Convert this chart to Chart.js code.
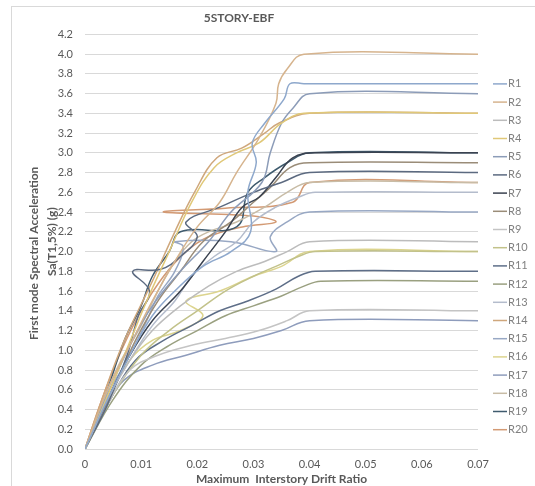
<!DOCTYPE html>
<html>
<head>
<meta charset="utf-8">
<script src="https://cdn.jsdelivr.net/npm/chart.js@4"></script>
<style>
  body { margin: 0; background: #fff; }
  canvas { display: block; }
</style>
</head>
<body>
<canvas id="idaChart" width="535" height="486"></canvas>
<script>
// record names and their (drift, Sa) points
const seriesLabels = ['R1','R2','R3','R4','R5','R6','R7','R8','R9','R10',
                      'R11','R12','R13','R14','R15','R16','R17','R18','R19','R20'];

const R1  = [[0,0],[0.004,0.5],[0.008,0.95],[0.012,1.35],[0.016,1.6],[0.021,1.85],[0.026,2.0],[0.0295,2.2],[0.029,2.6],[0.0305,2.9],[0.0298,3.1],[0.032,3.3],[0.0355,3.55],[0.0365,3.7],[0.039,3.7],[0.07,3.7]];
const R2  = [[0,0],[0.004,0.6],[0.008,1.05],[0.012,1.5],[0.016,1.9],[0.02,2.25],[0.024,2.5],[0.027,2.8],[0.031,3.15],[0.034,3.5],[0.0345,3.7],[0.036,3.85],[0.039,4.0],[0.07,4.0]];
const R3  = [[0,0],[0.004,0.5],[0.008,0.9],[0.012,1.2],[0.017,1.45],[0.022,1.65],[0.027,1.8],[0.032,1.9],[0.036,2.0],[0.04,2.1],[0.07,2.1]];
const R4  = [[0,0],[0.003,0.4],[0.007,0.95],[0.011,1.5],[0.015,2.0],[0.019,2.5],[0.023,2.85],[0.027,3.0],[0.031,3.1],[0.035,3.3],[0.039,3.4],[0.07,3.4]];
const R5  = [[0,0],[0.004,0.55],[0.008,1.05],[0.012,1.45],[0.017,1.8],[0.022,2.1],[0.026,2.4],[0.0315,2.7],[0.033,3.0],[0.035,3.3],[0.037,3.45],[0.04,3.6],[0.07,3.6]];
const R6  = [[0,0],[0.004,0.45],[0.0075,0.95],[0.0095,1.35],[0.0115,1.6],[0.0085,1.8],[0.0135,1.82],[0.017,1.95],[0.02,2.15],[0.018,2.3],[0.024,2.45],[0.03,2.6],[0.035,2.7],[0.04,2.8],[0.07,2.8]];
const R7  = [[0,0],[0.004,0.5],[0.008,0.95],[0.012,1.3],[0.017,1.6],[0.021,1.9],[0.025,2.2],[0.028,2.45],[0.031,2.55],[0.034,2.75],[0.037,2.95],[0.041,3.0],[0.07,3.0]];
const R8  = [[0,0],[0.005,0.6],[0.009,1.1],[0.013,1.5],[0.017,1.8],[0.021,2.1],[0.026,2.3],[0.03,2.5],[0.033,2.65],[0.0365,2.85],[0.04,2.9],[0.07,2.9]];
const R9  = [[0,0],[0.004,0.45],[0.008,0.8],[0.013,0.95],[0.019,1.05],[0.025,1.12],[0.031,1.2],[0.036,1.3],[0.04,1.4],[0.07,1.4]];
const R10 = [[0,0],[0.005,0.55],[0.01,0.95],[0.015,1.2],[0.02,1.4],[0.025,1.6],[0.03,1.75],[0.034,1.85],[0.038,1.95],[0.041,2.0],[0.07,2.0]];
const R11 = [[0,0],[0.005,0.55],[0.009,0.9],[0.014,1.1],[0.019,1.25],[0.024,1.4],[0.029,1.5],[0.034,1.62],[0.038,1.75],[0.041,1.8],[0.07,1.8]];
const R12 = [[0,0],[0.005,0.5],[0.01,0.85],[0.015,1.05],[0.02,1.2],[0.025,1.35],[0.03,1.45],[0.035,1.55],[0.039,1.65],[0.042,1.7],[0.07,1.7]];
const R13 = [[0,0],[0.004,0.5],[0.008,0.9],[0.012,1.25],[0.016,1.5],[0.019,1.75],[0.023,1.95],[0.027,2.1],[0.03,2.3],[0.034,2.45],[0.038,2.55],[0.041,2.6],[0.07,2.6]];
const R14 = [[0,0],[0.003,0.5],[0.007,1.1],[0.012,1.7],[0.016,2.2],[0.0195,2.6],[0.0235,2.95],[0.028,3.05],[0.032,3.2],[0.0345,3.3],[0.04,3.4],[0.07,3.4]];
const R15 = [[0,0],[0.004,0.55],[0.008,0.95],[0.011,1.3],[0.013,1.55],[0.016,1.8],[0.0175,2.05],[0.016,2.1],[0.026,2.1],[0.034,2.0],[0.033,2.15],[0.036,2.3],[0.04,2.4],[0.07,2.4]];
const R16 = [[0,0],[0.004,0.5],[0.008,0.9],[0.012,1.1],[0.017,1.2],[0.021,1.35],[0.018,1.5],[0.024,1.6],[0.03,1.75],[0.035,1.85],[0.04,2.0],[0.07,2.0]];
const R17 = [[0,0],[0.004,0.45],[0.007,0.7],[0.012,0.85],[0.018,0.95],[0.024,1.05],[0.03,1.12],[0.035,1.2],[0.04,1.3],[0.07,1.3]];
const R18 = [[0,0],[0.003,0.45],[0.006,0.85],[0.01,1.25],[0.013,1.6],[0.016,1.9],[0.019,2.1],[0.022,2.2],[0.027,2.3],[0.032,2.45],[0.036,2.6],[0.04,2.7],[0.07,2.7]];
const R19 = [[0,0],[0.004,0.6],[0.007,1.1],[0.01,1.45],[0.012,1.75],[0.015,2.0],[0.017,2.2],[0.027,2.25],[0.029,2.6],[0.032,2.75],[0.036,2.9],[0.04,3.0],[0.07,3.0]];
const R20 = [[0,0],[0.003,0.5],[0.0065,1.0],[0.01,1.4],[0.014,1.75],[0.018,2.0],[0.022,2.15],[0.028,2.25],[0.034,2.3],[0.03,2.36],[0.014,2.4],[0.025,2.44],[0.037,2.5],[0.04,2.7],[0.07,2.7]];

const allRecords = [R1,R2,R3,R4,R5,R6,R7,R8,R9,R10,R11,R12,R13,R14,R15,R16,R17,R18,R19,R20];

const lineColors = ['#8ea8cc','#d6b48e','#bcbcbc','#e0c878','#8c9cb8','#5c6a80','#3a4250','#9a8c78','#c4c4c4','#c2c28a',
                    '#5e6e88','#9aa080','#b4bccc','#cfa77c','#98a8c4','#dcd48e','#8e9cbc','#c8bca6','#3f5b6e','#d39a74'];

const yTicks = { min: 0, max: 4.2, step: 0.2 };
const xTicks = { min: 0, max: 0.07, step: 0.01 };

const fontFamily = 'Lato, "Open Sans", sans-serif';
const nbsp = '\u00A0';

const datasets = allRecords.map(function (rec, i) {
    return {
        label: seriesLabels[i],
        data: rec.map(function (p) { return { x: p[0], y: p[1] }; }),
        borderColor: lineColors[i],
        backgroundColor: lineColors[i],
        borderWidth: 1.5,
        showLine: true,
        pointRadius: 0,
        tension: 0.4
    };
});

// light frame round the chart, as in the exported picture
const frame = {
    id: 'frame',
    beforeDraw(chart) {
        const ctx = chart.ctx;
        ctx.save();
        ctx.strokeStyle = '#d9d9d9';
        ctx.lineWidth = 1;
        ctx.strokeRect(11.5, 6.5, 600, 600);
        ctx.restore();
    }
};

// legend column on the right
const sideLegend = {
    id: 'sideLegend',
    afterDraw(chart) {
        const ctx = chart.ctx;
        const area = chart.chartArea;
        ctx.save();
        ctx.font = '11px ' + fontFamily;
        ctx.textBaseline = 'middle';
        chart.data.datasets.forEach(function (ds, i) {
            const y = area.top + 49.5 + i * 18.2;
            ctx.strokeStyle = ds.borderColor;
            ctx.lineWidth = 1.5;
            ctx.beginPath();
            ctx.moveTo(area.right + 15, y);
            ctx.lineTo(area.right + 29, y);
            ctx.stroke();
            ctx.fillStyle = '#808080';
            ctx.fillText(ds.label, area.right + 30, y);
        });
        ctx.restore();
    }
};

new Chart(document.getElementById('idaChart'), {
    type: 'scatter',
    data: { datasets: datasets },
    plugins: [frame, sideLegend],
    options: {
        responsive: false,
        animation: false,
        devicePixelRatio: 1,
        layout: { padding: { left: 0, right: 57, top: 0, bottom: 0 } },
        plugins: {
            legend: { display: false },
            tooltip: { enabled: false },
            title: {
                display: true,
                text: '5STORY-EBF',
                color: '#595959',
                font: { family: fontFamily, size: 12, weight: 'bold' },
                padding: { top: 11, bottom: 9 }
            }
        },
        scales: {
            x: {
                type: 'linear',
                min: xTicks.min,
                max: xTicks.max,
                afterFit: function (scale) { scale.height = 37; },
                grid: { display: false, drawTicks: false },
                border: { display: false },
                ticks: {
                    stepSize: xTicks.step,
                    padding: 9,
                    color: '#595959',
                    font: { family: fontFamily, size: 11 },
                    callback: function (v) { return v === 0 ? '0' : (+v.toFixed(2)).toString(); }
                },
                title: {
                    display: true,
                    text: 'Maximum  Interstory Drift Ratio',
                    color: '#595959',
                    font: { family: fontFamily, size: 12, weight: 'bold' },
                    padding: { top: 2, bottom: 0 }
                }
            },
            y: {
                type: 'linear',
                min: yTicks.min,
                max: yTicks.max,
                afterFit: function (scale) { scale.width = 85; },
                grid: { color: '#d9d9d9', drawTicks: false },
                border: { display: false },
                ticks: {
                    stepSize: yTicks.step,
                    padding: 12,
                    color: '#595959',
                    font: { family: fontFamily, size: 11 },
                    callback: function (v) { return v.toFixed(1); }
                },
                title: {
                    display: true,
                    text: ['First mode Spectral Acceleration' + nbsp.repeat(8), 'Sa(T1,5%) (g)'],
                    color: '#595959',
                    font: { family: fontFamily, size: 12, weight: 'bold', lineHeight: 1.5 },
                    padding: { top: 25, bottom: 0 }
                }
            }
        }
    }
});
</script>
</body>
</html>
